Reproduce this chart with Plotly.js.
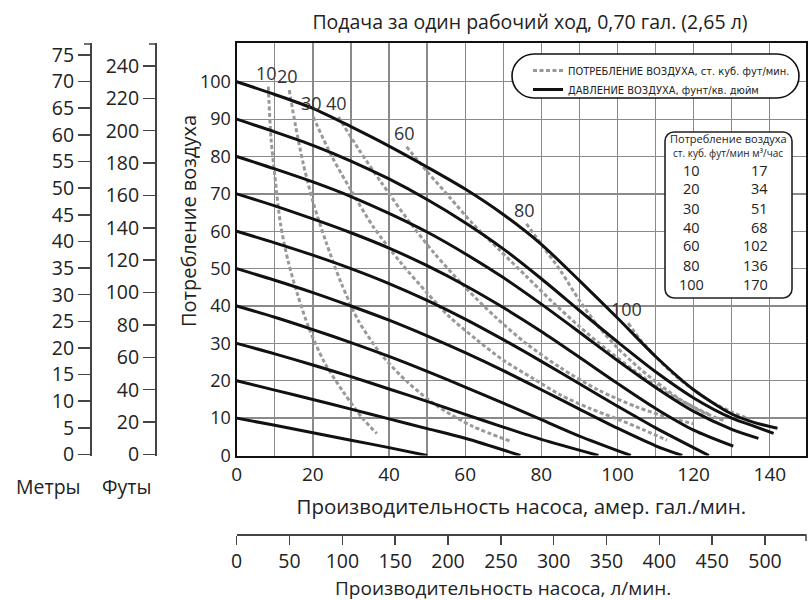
<!DOCTYPE html>
<html><head><meta charset="utf-8">
<script src="https://cdn.plot.ly/plotly-3.0.1.min.js"></script>
<style>html,body{margin:0;padding:0;background:#fff}#chart{width:811px;height:600px}</style>
</head><body><div id="chart"></div>
<script>
// ---------- DATA ----------
// Air pressure curves (psi): flow in US gpm, head in psi
const flow_psi100 = [0,10,20,30,40,50,60,70,80,90,100,110,120,130,136,142];
const pres_psi100 = [100,96.6,92.9,88,82.8,77.2,71.3,64.5,56.5,46.8,36.8,26.5,17.6,11.1,8.8,7.3];
const flow_psi90 = [0,10,20,30,40,50,60,70,80,90,100,110,120,130,136,141];
const pres_psi90 = [90,86.6,83,78.8,74,68.5,62.3,55.3,47.3,38.8,30.4,22.4,15.4,10,7.8,5.9];
const flow_psi80 = [0,10,20,30,40,50,60,70,80,90,100,110,120,130,137];
const pres_psi80 = [80,76.7,73.2,69.3,64.8,59.8,54,47.6,40.5,33,25.4,18.2,11.8,7,4.6];
const flow_psi70 = [0,10,20,30,40,50,60,70,80,90,100,110,120,130.4];
const pres_psi70 = [70,66.8,63.3,59.6,55.5,50.8,45.5,39.6,33.2,26.3,19.3,12.6,6.8,2.5];
const flow_psi60 = [0,10,20,30,40,50,60,70,80,90,100,110,124];
const pres_psi60 = [60,56.9,53.6,50,46,41.5,36.5,31,25.2,19.2,13.2,7.4,0];
const flow_psi50 = [0,10,20,30,40,50,60,70,80,90,100,110,117];
const pres_psi50 = [50,46.9,43.6,40,36.2,32,27.5,22.7,17.6,12.4,7.3,2.6,0];
const flow_psi40 = [0,10,20,30,40,50,60,70,80,90,103.5];
const pres_psi40 = [40,37,33.7,30.2,26.5,22.5,18.3,14,9.6,5.2,0];
const flow_psi30 = [0,10,20,30,40,50,60,70,80,95];
const pres_psi30 = [30,27.2,24.2,21.1,17.8,14.5,11,7.6,4.3,0];
const flow_psi20 = [0,10,20,30,40,50,60,74.5];
const pres_psi20 = [20,17.5,15,12.4,9.8,7.2,4.6,0];
const flow_psi10 = [0,10,20,30,40,50];
const pres_psi10 = [10,8.1,6.1,4.1,2.1,0];

// Air consumption curves (scfm)
const flow_cfm10 = [8.3,9,10,11.5,13.5,16,19,23,28,33,36.8];
const pres_cfm10 = [98.7,85,75,62,52,43,34,25,17,10,5.9];
const flow_cfm20 = [13.8,15.5,17.5,20,23.5,27.5,32,38,45,53,62,72.2];
const pres_cfm20 = [97.8,88,78,68,57,46,36,27,19.5,13,7.8,3.7];
const flow_cfm30 = [20.1,25,30,36,43,50,56,63,70,78,85,93,100.6,107,113];
const pres_cfm30 = [90.6,80,71,61,51.7,43.5,37,31,25.5,20.5,16.2,12.5,9.5,6.8,4.1];
const flow_cfm40 = [26.7,32,38,45,52,60,68,76,85,95,105,113,120];
const pres_cfm40 = [90.6,82,73,63,54,45,37,30,23.5,17.5,13,10.3,8.5];
const flow_cfm60 = [44.6,50,56,62,69,76,83,90,97,104,111,118,124];
const pres_cfm60 = [82.6,76,69,62,55,48,41,34.5,28.5,23,18,14,11];
const flow_cfm80 = [76.1,80,85,90,95,100,105,110,116,122,128];
const pres_cfm80 = [62,56.5,49.5,41.5,34.5,28.8,24,19.8,15.3,11.8,9.3];
const flow_cfm100 = [102.8,106,110,115,120,125,130,134];
const pres_cfm100 = [35.4,31,26.5,21.5,17.5,14.2,11.6,10];

const airLabels = ['10','20','30','40','60','80','100'];
const tableCfm = [10,20,30,40,60,80,100];
const tableM3h = [17,34,51,68,102,136,170];
const yTickVals = [0,10,20,30,40,50,60,70,80,90,100];

const titleText = 'Подача за один рабочий ход, 0,70 гал. (2,65 л)';
const legendAir = 'ПОТРЕБЛЕНИЕ ВОЗДУХА, ст. куб. фут/мин.';
const legendPres = 'ДАВЛЕНИЕ ВОЗДУХА, фунт/кв. дюйм';
const xTitle = 'Производительность насоса, амер. гал./мин.';
const x2Title = 'Производительность насоса, л/мин.';
const yTitle = 'Потребление воздуха';
const tableHead1 = 'Потребление воздуха';
const tableHead2 = 'ст. куб. фут/мин м³/час';

// ---------- LAYOUT HELPERS ----------
const W = 811, H = 600;
const px = v => v / W, py = v => 1 - v / H;
const FONT = 'Open Sans, Noto Sans, sans-serif';
const NARROW = 'Liberation Sans Narrow, DejaVu Sans Condensed, Open Sans, sans-serif';

const airSeries = [
  [flow_cfm10, pres_cfm10], [flow_cfm20, pres_cfm20], [flow_cfm30, pres_cfm30],
  [flow_cfm40, pres_cfm40], [flow_cfm60, pres_cfm60], [flow_cfm80, pres_cfm80],
  [flow_cfm100, pres_cfm100]
];
const presSeries = [
  [flow_psi100, pres_psi100], [flow_psi90, pres_psi90], [flow_psi80, pres_psi80],
  [flow_psi70, pres_psi70], [flow_psi60, pres_psi60], [flow_psi50, pres_psi50],
  [flow_psi40, pres_psi40], [flow_psi30, pres_psi30], [flow_psi20, pres_psi20],
  [flow_psi10, pres_psi10]
];

const traces = [];
airSeries.forEach((s, i) => traces.push({
  x: s[0], y: s[1], type: 'scatter', mode: 'lines',
  line: {color: '#999', width: 3, dash: '4px,2.5px', shape: 'spline', smoothing: 0.8},
  name: legendAir, showlegend: i === 0, legendgroup: 'air', hoverinfo: 'skip'
}));
presSeries.forEach((s, i) => traces.push({
  x: s[0], y: s[1], type: 'scatter', mode: 'lines',
  line: {color: '#111', width: 3, shape: 'spline', smoothing: 0.8},
  name: legendPres, showlegend: i === 0, legendgroup: 'pres', hoverinfo: 'skip'
}));
// anchors for extra axes
traces.push({x: [0], y: [null], xaxis: 'x2', yaxis: 'y', mode: 'lines', showlegend: false, hoverinfo: 'skip'});
traces.push({x: [null], y: [0], xaxis: 'x', yaxis: 'y2', mode: 'lines', showlegend: false, hoverinfo: 'skip'});
traces.push({x: [null], y: [0], xaxis: 'x', yaxis: 'y3', mode: 'lines', showlegend: false, hoverinfo: 'skip'});

// rounded shapes in pixel space -> paper
function P(x, y) { return px(x).toFixed(5) + ',' + py(y).toFixed(5); }
function roundRect(l, t, r, b, rad) {
  const k = 0.5523 * rad;
  return 'M' + P(l + rad, t) + ' L' + P(r - rad, t) +
    ' C' + P(r - rad + k, t) + ' ' + P(r, t + rad - k) + ' ' + P(r, t + rad) +
    ' L' + P(r, b - rad) +
    ' C' + P(r, b - rad + k) + ' ' + P(r - rad + k, b) + ' ' + P(r - rad, b) +
    ' L' + P(l + rad, b) +
    ' C' + P(l + rad - k, b) + ' ' + P(l, b - rad + k) + ' ' + P(l, b - rad) +
    ' L' + P(l, t + rad) +
    ' C' + P(l, t + rad - k) + ' ' + P(l + rad - k, t) + ' ' + P(l + rad, t) + ' Z';
}

const shapes = [
  {type: 'path', xref: 'paper', yref: 'paper', path: roundRect(512, 54, 799, 98, 22),
   line: {color: '#111', width: 1.6}, fillcolor: '#fff', layer: 'above'},
  {type: 'path', xref: 'paper', yref: 'paper', path: roundRect(665, 132, 792, 298, 9),
   line: {color: '#222', width: 1.6}, fillcolor: '#fff', layer: 'above'},
  // caps of the side scales
  {type: 'line', xref: 'paper', yref: 'paper', x0: px(84), x1: px(90), y0: py(44), y1: py(44), line: {color: '#444', width: 1.5}},
  {type: 'line', xref: 'paper', yref: 'paper', x0: px(149), x1: px(155), y0: py(44), y1: py(44), line: {color: '#444', width: 1.5}},
  {type: 'line', xref: 'paper', yref: 'paper', x0: px(806), x1: px(806), y0: py(534.3), y1: py(541), line: {color: '#444', width: 1.5}}
];

function note(text, x, y, size, extra) {
  return Object.assign({text: text, xref: 'paper', yref: 'paper', x: px(x), y: py(y),
    xanchor: 'center', yanchor: 'middle', showarrow: false, borderpad: 0, font: {size: size}}, extra || {});
}
const annotations = [
  note(yTitle, 188, 221, 20, {textangle: -90}),
  note('Метры', 48, 486, 19.5),
  note('Футы', 126, 486, 19.5),
  note(x2Title, 503, 587.5, 19),
  note(tableHead1, 728, 138, 11),
  note(tableHead2, 728, 152.5, 10)
];
airSeries.forEach((s, i) => annotations.push({
  text: airLabels[i], xref: 'x', yref: 'y', x: s[0][0], y: s[1][0], xanchor: 'center', yanchor: 'middle',
  xshift: -2, yshift: 14, showarrow: false, font: {size: 18, color: '#333'}
}));
tableCfm.forEach((v, i) => {
  annotations.push(note(String(v), 691, 170 + i * 19, 14.5));
  annotations.push(note(String(tableM3h[i]), 769, 170 + i * 19, 14.5, {xanchor: 'right'}));
});

const grid = '#8a8a8a';
const layout = {
  width: W, height: H,
  margin: {l: 0, r: 0, t: 0, b: 0},
  paper_bgcolor: '#fff', plot_bgcolor: '#fff',
  font: {family: FONT, color: '#222'},
  hovermode: false,
  title: {text: titleText, font: {size: 19.5, color: '#222'}, x: px(530), xref: 'paper', xanchor: 'center',
          y: py(21.7), yref: 'container', yanchor: 'middle'},
  showlegend: true,
  legend: {x: px(528), y: py(56), xanchor: 'left', yanchor: 'top', bgcolor: 'rgba(0,0,0,0)', borderwidth: 0,
           font: {size: 11, family: NARROW, color: '#222'}, tracegroupgap: 0, traceorder: 'normal'},
  xaxis: {domain: [px(236.7), px(806)], range: [0, 149.5], tick0: 0, dtick: 20, ticks: '',
          showgrid: true, gridcolor: grid, gridwidth: 1.3,
          minor: {dtick: 10, showgrid: true, gridcolor: grid, gridwidth: 1.3},
          showline: true, mirror: true, linecolor: '#111', linewidth: 2.2, zeroline: false,
          tickfont: {size: 19}, title: {text: xTitle, font: {size: 20.5}, standoff: 14}, anchor: 'y'},
  yaxis: {domain: [py(455.5), py(43.3)], range: [0, 110.3], tickmode: 'array', tickvals: yTickVals, ticks: '',
          showgrid: true, gridcolor: grid, gridwidth: 1.3,
          showline: true, mirror: true, linecolor: '#111', linewidth: 2.2, zeroline: false,
          tickfont: {size: 18}, anchor: 'x'},
  xaxis2: {overlaying: 'x', anchor: 'free', position: py(534.3), side: 'bottom', range: [0, 538.8],
           tick0: 0, dtick: 50, ticks: 'outside', ticklen: 9, tickwidth: 1.5, tickcolor: '#444',
           showline: true, linecolor: '#444', linewidth: 1.5, showgrid: false, zeroline: false,
           tickfont: {size: 19.5}},
  yaxis2: {overlaying: 'y', anchor: 'free', position: px(90), side: 'left', range: [-0.19, 77.19],
           tick0: 0, dtick: 5, ticks: 'outside', ticklen: 12, tickwidth: 1.5, tickcolor: '#444',
           showline: true, linecolor: '#444', linewidth: 1.5, showgrid: false, zeroline: false,
           tickfont: {size: 19.5}},
  yaxis3: {overlaying: 'y', anchor: 'free', position: px(155), side: 'left', range: [-0.62, 254],
           tick0: 0, dtick: 20, ticks: 'outside', ticklen: 12, tickwidth: 1.5, tickcolor: '#444',
           showline: true, linecolor: '#444', linewidth: 1.5, showgrid: false, zeroline: false,
           tickfont: {size: 19.5}},
  shapes: shapes,
  annotations: annotations
};

Plotly.newPlot('chart', traces, layout, {displayModeBar: false, staticPlot: true});
</script></body></html>
